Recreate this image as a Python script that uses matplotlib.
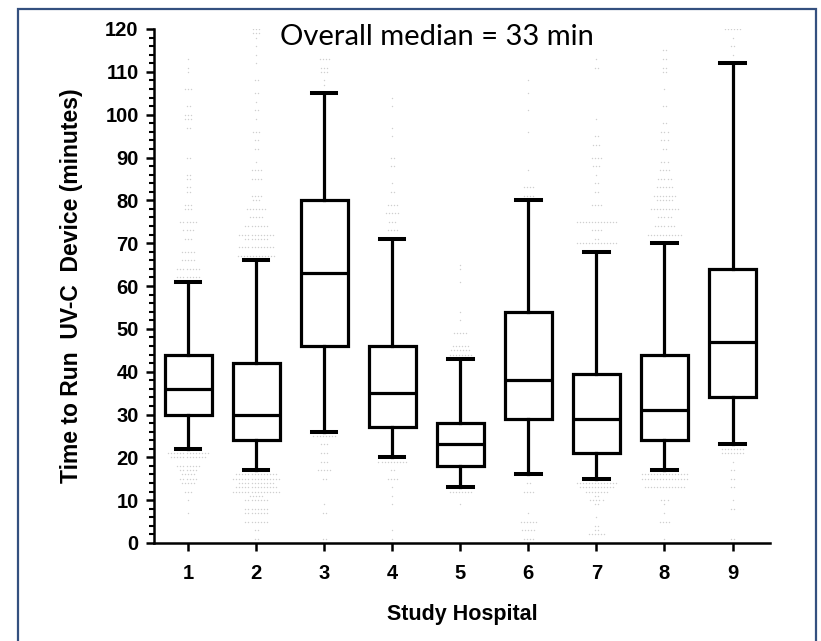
import matplotlib.pyplot as plt
from matplotlib.patches import Rectangle

plt.rcParams['font.family'] = ['Liberation Sans', 'DejaVu Sans']

# box summaries (minutes)
hospitals = [1, 2, 3, 4, 5, 6, 7, 8, 9]
whisk_lo = [22, 17, 26, 20, 13, 16, 15, 17, 23]
q1 = [30, 24, 46, 27, 18, 29, 21, 24, 34]
medians = [36, 30, 63, 35, 23, 38, 29, 31, 47]
q3 = [44, 42, 80, 46, 28, 54, 39.5, 44, 64]
whisk_hi = [61, 66, 105, 71, 43, 80, 68, 70, 112]

# faint points outside the whiskers: (value, number of dots in the row)
h1_pts = [(113, 1), (111, 1), (110, 1), (106, 3), (102, 2), (100, 3), (99, 3), (97, 2),
          (90, 2), (86, 2), (85, 2), (83, 2), (82, 2), (79, 3), (78, 3), (75, 6), (73, 4),
          (71, 3), (68, 5), (66, 5), (64, 8), (62, 8),
          (21, 14), (20, 12), (18, 8), (17, 6), (16, 5), (15, 6), (14, 5), (12, 3), (10, 1), (7, 1)]
h2_pts = [(120, 3), (119, 3), (118, 1), (116, 1), (114, 1), (112, 1), (108, 2), (105, 2),
          (103, 1), (101, 2), (99, 1), (96, 3), (94, 2), (92, 2), (89, 1), (87, 4), (85, 4),
          (81, 4), (80, 3), (78, 7), (76, 5), (74, 8), (72, 12), (71, 8), (69, 12), (67, 13),
          (16, 14), (15, 16), (14, 12), (13, 14), (12, 16), (11, 5), (10, 8), (8, 8), (7, 8),
          (5, 8), (3, 2), (1, 2)]
h3_pts = [(113, 4), (111, 3), (110, 3), (108, 1), (107, 1),
          (25, 8), (23, 3), (21, 3), (19, 3), (17, 5), (15, 2), (9, 1), (7, 2), (1, 2)]
h4_pts = [(104, 1), (102, 1), (97, 1), (95, 1), (90, 2), (88, 2), (84, 1), (82, 2),
          (79, 4), (77, 5), (75, 3), (73, 4),
          (19, 10), (17, 2), (15, 4), (13, 1), (11, 1), (9, 1), (3, 1), (1, 1)]
h5_pts = [(65, 1), (64, 1), (61, 1), (54, 1), (52, 1), (49, 5), (46, 6), (45, 7), (44, 8),
          (12, 8), (9, 1)]
h6_pts = [(108, 1), (105, 1), (101, 1), (96, 1), (87, 1), (83, 4), (81, 4),
          (14, 2), (12, 4), (7, 1), (5, 6), (3, 5), (1, 4)]
h7_pts = [(113, 1), (111, 2), (99, 1), (95, 2), (93, 3), (90, 4), (88, 3), (86, 1), (84, 2),
          (82, 2), (79, 4), (75, 14), (73, 4), (71, 2), (70, 14),
          (14, 14), (13, 12), (12, 8), (11, 2), (10, 5), (9, 2), (6, 1), (4, 2), (3, 2), (2, 6)]
h8_pts = [(115, 2), (113, 2), (111, 2), (110, 2), (106, 1), (102, 2), (98, 2), (96, 3),
          (94, 3), (92, 2), (89, 3), (87, 4), (85, 5), (83, 6), (81, 8), (80, 6), (78, 10),
          (76, 5), (74, 7), (72, 12),
          (16, 16), (15, 16), (13, 14), (10, 3), (9, 1), (7, 1), (5, 4), (1, 1)]
h9_pts = [(120, 6), (118, 1), (116, 2), (114, 1),
          (22, 8), (21, 8), (19, 1), (17, 2), (15, 2), (13, 2), (10, 1), (8, 2), (1, 2)]
all_pts = [h1_pts, h2_pts, h3_pts, h4_pts, h5_pts, h6_pts, h7_pts, h8_pts, h9_pts]

fig = plt.figure(figsize=(8.21, 6.41), dpi=100)
ax = fig.add_axes([154 / 821, 1 - 543 / 641, (770 - 154) / 821, (543 - 29) / 641])

# dot rows, spread sideways around each hospital position
step = 0.045
for pos, rows in zip(hospitals, all_pts):
    xs, ys = [], []
    for val, n in rows:
        for i in range(n):
            xs.append(pos + (i - (n - 1) / 2) * step)
            ys.append(val)
    ax.scatter(xs, ys, s=1.0, color='#cfcfcf', linewidths=0, zorder=1)

stats = []
for i in range(len(hospitals)):
    stats.append(dict(whislo=whisk_lo[i], q1=q1[i], med=medians[i], q3=q3[i],
                      whishi=whisk_hi[i], fliers=[]))

lw = 2.3
ax.bxp(stats, positions=hospitals, widths=0.69, capwidths=0.36, showfliers=False,
       patch_artist=True,
       boxprops=dict(facecolor='white', edgecolor='black', linewidth=lw),
       medianprops=dict(color='black', linewidth=lw),
       whiskerprops=dict(color='black', linewidth=lw),
       capprops=dict(color='black', linewidth=lw + 0.6),
       zorder=3)

ax.set_xlim(0.5, 9.55)
ax.set_ylim(0, 120)
ax.set_yticks(range(0, 121, 10))
ax.set_yticks(range(0, 121, 2), minor=True)
ax.set_xticks(hospitals)
ax.set_xticklabels([str(h) for h in hospitals])

for s in ['top', 'right']:
    ax.spines[s].set_visible(False)
for s in ['left', 'bottom']:
    ax.spines[s].set_linewidth(1.8)

ax.tick_params(axis='both', which='major', length=6, width=1.8, labelsize=14.5)
ax.tick_params(axis='y', which='major', pad=5)
ax.tick_params(axis='x', which='major', pad=9)
ax.tick_params(axis='y', which='minor', length=3.5, width=1.5)
for lab in ax.get_xticklabels() + ax.get_yticklabels():
    lab.set_fontweight('bold')

ax.set_ylabel('Time to Run  UV-C  Device (minutes)', fontsize=16.5, fontweight='bold', labelpad=16)
ax.set_xlabel('Study Hospital', fontsize=15.5, fontweight='bold', labelpad=15)

fig.text(437 / 821, 1 - 37 / 641, 'Overall median = 33 min', family=['Lato', 'DejaVu Sans'],
         fontsize=21, ha='center', va='center')

# frame around the whole figure
fig.patches.append(Rectangle((18 / 821, -0.02), (816 - 18) / 821, 1 - 9 / 641 + 0.02,
                             transform=fig.transFigure, fill=False,
                             edgecolor='#34507f', linewidth=1.6))

fig.savefig('out.png', dpi=100)
